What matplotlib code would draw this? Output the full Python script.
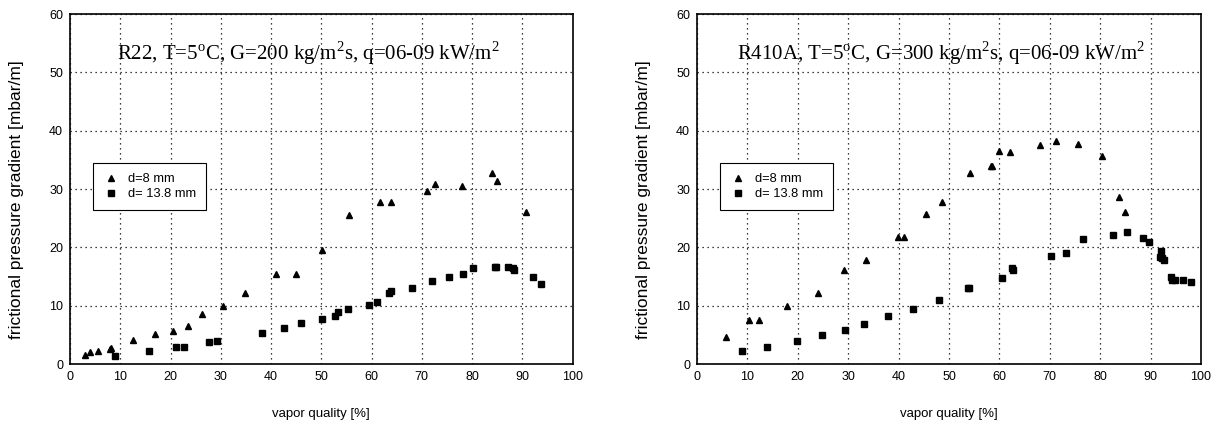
import numpy as np
import matplotlib
matplotlib.use("Agg")
import matplotlib.pyplot as plt

plt.rcParams['font.family'] = ['Liberation Sans', 'DejaVu Sans']
plt.rcParams['mathtext.fontset'] = 'custom'
plt.rcParams['mathtext.rm'] = 'Liberation Serif'

# R22, d=8 mm
r22_x8 = [3.0, 4.0, 5.6, 7.9, 8.1, 12.5, 17.0, 20.4, 23.4, 26.2, 30.5, 34.8, 41.0, 44.9,
          50.1, 55.6, 61.6, 63.8, 71.1, 72.7, 78.0, 84.0, 85.0, 90.7]
r22_y8 = [1.5, 2.0, 2.2, 2.6, 2.8, 4.2, 5.1, 5.7, 6.6, 8.5, 10.0, 12.1, 15.4, 15.4,
          19.5, 25.6, 27.7, 27.7, 29.7, 30.9, 30.6, 32.8, 31.3, 26.0]
# R22, d=13.8 mm
r22_x13 = [9.0, 15.8, 21.1, 22.7, 27.7, 29.3, 38.2, 42.6, 46.0, 50.1, 52.7, 53.3, 55.3,
           59.5, 61.1, 63.4, 63.8, 68.0, 72.0, 75.4, 78.1, 80.1, 84.5, 84.7, 87.1, 88.1,
           88.3, 92.1, 93.8]
r22_y13 = [1.3, 2.2, 3.0, 3.0, 3.7, 3.9, 5.3, 6.1, 7.0, 7.8, 8.3, 8.9, 9.4,
           10.2, 10.7, 12.1, 12.5, 13.0, 14.2, 15.0, 15.4, 16.4, 16.7, 16.6, 16.7, 16.4,
           16.2, 15.0, 13.8]

# R410A, d=8 mm
r410_x8 = [5.8, 10.3, 12.3, 17.8, 24.0, 29.2, 33.6, 39.8, 41.1, 45.5, 48.7, 54.2, 58.4,
           58.6, 60.0, 62.1, 68.1, 71.2, 75.6, 80.3, 83.7, 84.9]
r410_y8 = [4.7, 7.5, 7.5, 10.0, 12.2, 16.1, 17.9, 21.8, 21.7, 25.8, 27.8, 32.8, 34.0,
           34.0, 36.6, 36.4, 37.6, 38.3, 37.8, 35.6, 28.6, 26.1]
# R410A, d=13.8 mm
r410_x13 = [9.0, 13.9, 19.8, 24.8, 29.3, 33.1, 38.0, 42.8, 48.1, 53.8, 54.0, 60.6, 62.5,
            62.7, 70.2, 73.2, 76.5, 82.5, 85.4, 88.4, 89.6, 92.0, 91.9, 92.3, 92.6, 94.1,
            94.3, 94.9, 96.5, 98.1]
r410_y13 = [2.2, 2.9, 3.9, 4.9, 5.8, 6.8, 8.2, 9.4, 10.9, 13.1, 13.0, 14.7, 16.4,
            16.1, 18.6, 19.0, 21.5, 22.1, 22.6, 21.6, 20.9, 19.3, 18.3, 18.1, 17.8, 15.0,
            14.4, 14.4, 14.4, 14.0]

titles = ["R22, T=5$^{\\mathrm{o}}$C, G=200 kg/m$^{\\mathrm{2}}$s, q=06-09 kW/m$^{\\mathrm{2}}$",
          "R410A, T=5$^{\\mathrm{o}}$C, G=300 kg/m$^{\\mathrm{2}}$s, q=06-09 kW/m$^{\\mathrm{2}}$"]

fig = plt.figure(figsize=(12.21, 4.25), dpi=100)
ax1 = fig.add_axes([0.0573, 0.1435, 0.4117, 0.8235])
ax2 = fig.add_axes([0.5708, 0.1435, 0.4128, 0.8235])

datos = [(ax1, r22_x8, r22_y8, r22_x13, r22_y13, titles[0], 47.5),
         (ax2, r410_x8, r410_y8, r410_x13, r410_y13, titles[1], 48.5)]

for ax, x8, y8, x13, y13, titulo, xt in datos:
    ax.plot(x8, y8, linestyle='none', marker='^', markersize=4.5, color='black', label='d=8 mm')
    ax.plot(x13, y13, linestyle='none', marker='s', markersize=4.2, color='black', label='d= 13.8 mm')
    ax.set_xlim(0, 100)
    ax.set_ylim(0, 60)
    ax.set_xticks(np.arange(0, 101, 10))
    ax.set_yticks(np.arange(0, 61, 10))
    ax.grid(True, color='black', linestyle=(0, (1, 3)), linewidth=0.9)
    ax.tick_params(length=0, labelsize=9, pad=5)
    for s in ax.spines.values():
        s.set_linewidth(1.2)
    ax.set_xlabel("vapor quality [%]", fontsize=9.5, labelpad=18)
    ax.set_ylabel("frictional pressure gradient [mbar/m]", fontsize=12.5)
    ax.yaxis.set_label_coords(-0.092, 0.47)
    ax.text(xt, 53.3, titulo, ha='center', va='center', fontsize=15,
            family='Liberation Serif')
    leg = ax.legend(loc='upper left', bbox_to_anchor=(0.046, 0.574), fontsize=9.3,
                    frameon=True, fancybox=False, edgecolor='black', framealpha=1,
                    handletextpad=0.7, borderpad=0.8, handlelength=1.2,
                    labelspacing=0.2, borderaxespad=0)
    leg.get_frame().set_linewidth(0.8)

fig.savefig("out.png", dpi=100)
